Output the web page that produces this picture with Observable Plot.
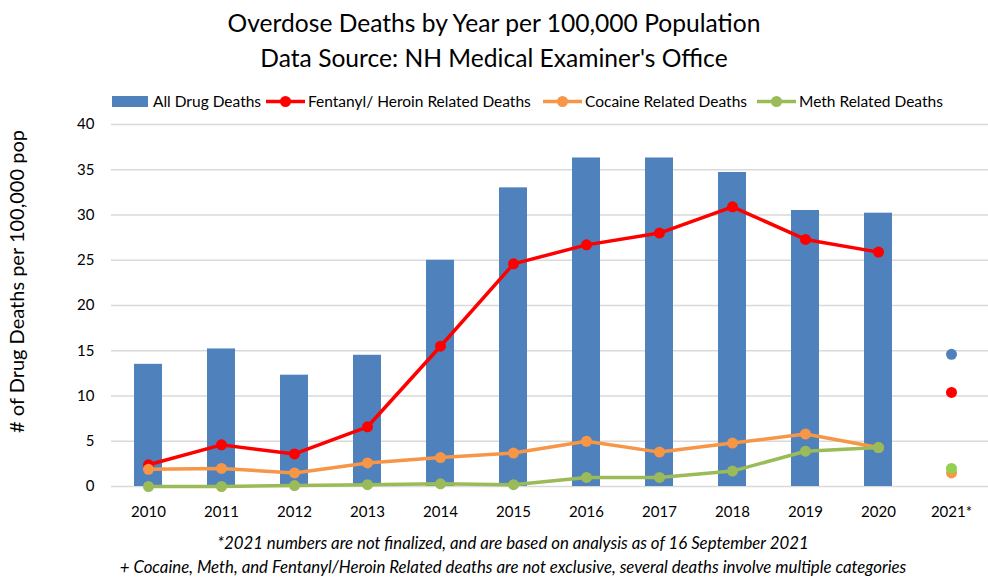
<!DOCTYPE html>
<html>
<head>
<meta charset="utf-8">
<script src="https://cdn.jsdelivr.net/npm/d3@7"></script>
<script src="https://cdn.jsdelivr.net/npm/@observablehq/plot@0.6"></script>
<style>
  html, body { margin: 0; padding: 0; background: #fff; }
  body { width: 988px; font-family: Lato, "Liberation Sans", sans-serif; color: #000; }
  #title { box-sizing: border-box; height: 90px; padding-top: 5px; text-align: center; font-size: 24.6px; line-height: 35px; }
  #legend { position: relative; height: 22px; font-size: 15.5px; }
  #legend .item { position: absolute; top: 0; height: 22px; line-height: 22px; white-space: nowrap; }
  #legend svg { position: absolute; top: 0; }
  #chart svg { display: block; }
  #notes { box-sizing: border-box; padding-top: 9px; text-align: center; font-style: italic; font-size: 16.8px; line-height: 24px; padding-left: 38px; white-space: nowrap; }
</style>
</head>
<body>
<div id="title">Overdose Deaths by Year per 100,000 Population<br>Data Source: NH Medical Examiner's Office</div>
<div id="legend"></div>
<div id="chart"></div>
<div id="notes">*2021 numbers are not finalized, and are based on analysis as of 16 September 2021<br>+ Cocaine, Meth, and Fentanyl/Heroin Related deaths are not exclusive, several deaths involve multiple categories</div>
<script>
// ---- data ----
const years = ["2010","2011","2012","2013","2014","2015","2016","2017","2018","2019","2020"];
const allDrugDeaths = [13.5, 15.2, 12.3, 14.5, 25.0, 33.0, 36.3, 36.3, 34.7, 30.5, 30.2];
const fentanylHeroin = [2.4, 4.6, 3.6, 6.6, 15.5, 24.6, 26.7, 28.0, 30.9, 27.3, 25.9];
const cocaine = [1.9, 2.0, 1.5, 2.6, 3.2, 3.7, 5.0, 3.8, 4.8, 5.8, 4.3];
const meth = [0.0, 0.0, 0.1, 0.2, 0.3, 0.2, 1.0, 1.0, 1.7, 3.9, 4.3];
const year2021 = "2021*";
const series2021 = ["All Drug Deaths", "Fentanyl/ Heroin Related Deaths", "Cocaine Related Deaths", "Meth Related Deaths"];
const values2021 = [14.6, 10.4, 1.5, 2.0];
const yTicks = [0, 5, 10, 15, 20, 25, 30, 35, 40];
const seriesNames = ["All Drug Deaths", "Fentanyl/ Heroin Related Deaths", "Cocaine Related Deaths", "Meth Related Deaths"];
const yLabel = "# of Drug Deaths per 100,000 pop";

// ---- styles ----
const colors = {
  "All Drug Deaths": "#4f81bd",
  "Fentanyl/ Heroin Related Deaths": "#ff0000",
  "Cocaine Related Deaths": "#f79646",
  "Meth Related Deaths": "#9bbb59"
};
const colors2021 = {
  "All Drug Deaths": "#4f81bd",
  "Fentanyl/ Heroin Related Deaths": "#ff0000",
  "Cocaine Related Deaths": "#f79646",
  "Meth Related Deaths": "#92d050"
};

const barData = years.map((year, i) => ({year, value: allDrugDeaths[i]}));
const lineSeries = [
  {name: seriesNames[1], values: fentanylHeroin},
  {name: seriesNames[2], values: cocaine},
  {name: seriesNames[3], values: meth}
];
const dots2021 = [0, 1, 2, 3].map(i => ({year: year2021, name: series2021[i], value: values2021[i]}));

const lineMarks = lineSeries.flatMap(s => {
  const d = years.map((year, i) => ({year, value: s.values[i]}));
  return [
    Plot.lineY(d, {x: "year", y: "value", stroke: colors[s.name], strokeWidth: 3.5, strokeLinejoin: "round"}),
    Plot.dot(d, {x: "year", y: "value", fill: colors[s.name], r: 5.5})
  ];
});

const chart = Plot.plot({
  width: 988,
  height: 410,
  marginTop: 12,
  marginBottom: 36,
  marginLeft: 111,
  marginRight: 0,
  style: {fontFamily: "Lato, 'Liberation Sans', sans-serif", fontSize: "15px", color: "#000", background: "#fff"},
  x: {domain: [...years, year2021], paddingInner: 0.61, paddingOuter: 0.305, align: 0.5, label: null},
  y: {domain: [0, 40], label: null},
  marks: [
    Plot.ruleY(yTicks, {stroke: "#d9d9d9", strokeWidth: 1.3}),
    Plot.barY(barData, {x: "year", y: "value", fill: colors["All Drug Deaths"]}),
    ...lineMarks,
    Plot.dot(dots2021, {x: "year", y: "value", fill: d => colors2021[d.name], r: 5.5}),
    Plot.axisX({tickSize: 0, tickPadding: 20, fontSize: 15, label: null}),
    Plot.axisY({ticks: yTicks, tickSize: 0, tickPadding: 17, fontSize: 15, label: null}),
    Plot.text([yLabel], {frameAnchor: "left", text: d => d, rotate: -90, dx: -94, dy: -24, fontSize: 20, textAnchor: "middle"})
  ]
});
document.getElementById("chart").appendChild(chart);

// ---- legend ----
const legend = document.getElementById("legend");
const legendItems = [
  {name: seriesNames[0], kind: "bar", sx: 112, tx: 153},
  {name: seriesNames[1], kind: "line", sx: 266, tx: 308},
  {name: seriesNames[2], kind: "line", sx: 543, tx: 585},
  {name: seriesNames[3], kind: "line", sx: 757, tx: 799}
];
legendItems.forEach(it => {
  const ns = "http://www.w3.org/2000/svg";
  const svg = document.createElementNS(ns, "svg");
  svg.setAttribute("width", 40);
  svg.setAttribute("height", 22);
  svg.style.left = it.sx + "px";
  if (it.kind === "bar") {
    const r = document.createElementNS(ns, "rect");
    r.setAttribute("x", 0); r.setAttribute("y", 6); r.setAttribute("width", 36); r.setAttribute("height", 11);
    r.setAttribute("fill", colors[it.name]);
    svg.appendChild(r);
  } else {
    const l = document.createElementNS(ns, "line");
    l.setAttribute("x1", 0); l.setAttribute("x2", 39); l.setAttribute("y1", 11.5); l.setAttribute("y2", 11.5);
    l.setAttribute("stroke", colors[it.name]); l.setAttribute("stroke-width", 3.5);
    svg.appendChild(l);
    const c = document.createElementNS(ns, "circle");
    c.setAttribute("cx", 19.5); c.setAttribute("cy", 11.5); c.setAttribute("r", 5.5);
    c.setAttribute("fill", colors[it.name]);
    svg.appendChild(c);
  }
  legend.appendChild(svg);
  const span = document.createElement("div");
  span.className = "item";
  span.style.left = it.tx + "px";
  span.textContent = it.name;
  legend.appendChild(span);
});
</script>
</body>
</html>
